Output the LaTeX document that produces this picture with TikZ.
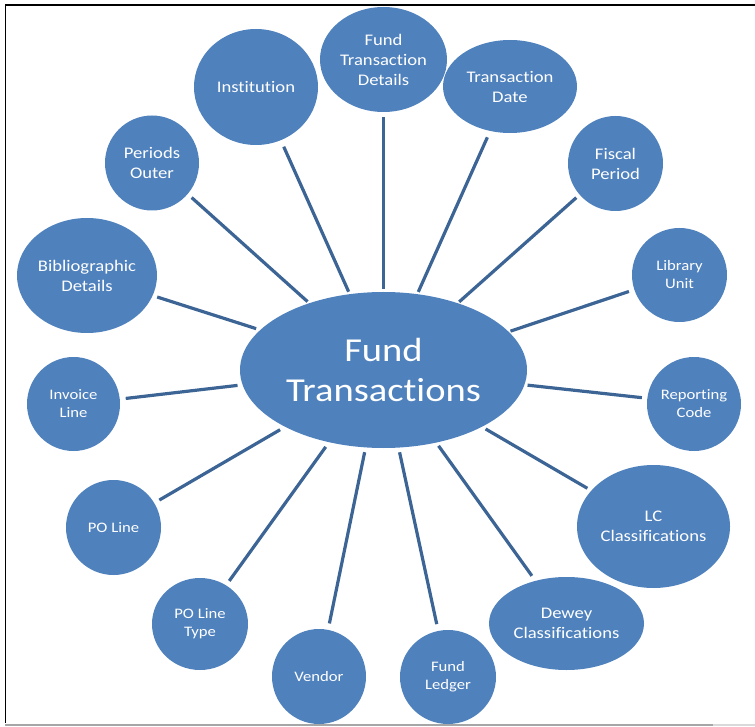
\documentclass[tikz,border=0pt]{standalone}
\usepackage{fontspec}
\setmainfont{Carlito}[FakeStretch=1.15, Ligatures={NoCommon,NoDiscretionary}, Contextuals=NoAlternate]
\usetikzlibrary{shapes.geometric}
\definecolor{nodeblue}{HTML}{4F81BD}
\definecolor{linkblue}{HTML}{3C6595}
\tikzset{
  bub/.style={ellipse, fill=nodeblue, text=white, inner sep=0pt, align=center,
    font=\fontsize{16.2}{20}\selectfont},
  smalltext/.style={font=\fontsize{14.5}{18}\selectfont},
  hubtext/.style={font=\fontsize{33.5}{40}\selectfont},
  link/.style={draw=linkblue, line width=3.2pt},
  sz/.style 2 args={minimum width=#1pt, minimum height=#2pt}
}
\begin{document}
\begin{tikzpicture}[x=1pt,y=-1pt]
\useasboundingbox (0,0) rectangle (755,727);
% frame
\draw[black, line width=1.5pt] (5,5) -- (755,5);
\draw[black, line width=1.5pt] (5.5,4.25) -- (5.5,723);
\draw[gray!70, line width=2pt] (5,724.5) -- (713,724.5);
\draw[gray!30, line width=2pt] (713,724.5) -- (755,724.5);

% hub
\node[bub, hubtext, sz={287}{156}] (ft) at (383.5,370) {Fund\\Transactions};

% satellites
\node[bub, sz={127}{105}] (ftd) at (383.5,59.5) {Fund\\Transaction\\Details};
\node[bub, sz={124}{116}] (inst) at (256,87) {Institution};
\node[bub, sz={134}{93}] (tdate) at (510,86.5) {Transaction\\Date};
\node[bub, sz={94}{95}] (pout) at (152,163) {Periods\\Outer};
\node[bub, sz={95}{95}] (fiscal) at (615.5,163.5) {Fiscal\\Period};
\node[bub, sz={140}{115}] (biblio) at (87,275.5) {Bibliographic\\Details};
\node[bub, smalltext, sz={95}{94}] (lib) at (679.5,275) {Library\\Unit};
\node[bub, smalltext, sz={93}{94}] (inv) at (73.5,404) {Invoice\\Line};
\node[bub, smalltext, sz={94}{94}] (rep) at (694,404) {Reporting\\Code};
\node[bub, smalltext, sz={95}{95}] (pol) at (113.5,527.5) {PO Line};
\node[bub, sz={153}{123}] (lc) at (653.5,526.5) {LC\\Classifications};
\node[bub, smalltext, sz={96}{92}] (polt) at (200,624) {PO Line\\Type};
\node[bub, smalltext, sz={94}{95}] (vend) at (319,676.5) {Vendor};
\node[bub, smalltext, sz={96}{94}] (ledg) at (448,677) {Fund\\Ledger};
\node[bub, sz={155}{93}] (dew) at (566.5,623.5) {Dewey\\Classifications};

% connectors
\draw[link, shorten <=5pt, shorten >=2.5pt] (ftd.-90) -- (ft.90);
\draw[link, shorten <=7pt, shorten >=2.5pt] (inst.-65.8) -- (ft.114.5);
\draw[link, shorten <=6.8pt, shorten >=2.3pt] (tdate.-114.5) -- (ft.66.1);
\draw[link, shorten <=5.2pt, shorten >=2.2pt] (pout.-41.9) -- (ft.138.4);
\draw[link, shorten <=4.3pt, shorten >=1.8pt] (fiscal.-139.7) -- (ft.42);
\draw[link, shorten <=4.6pt, shorten >=4.2pt] (biblio.-17.1) -- (ft.162.7);
\draw[link, shorten <=5.5pt, shorten >=1.8pt] (lib.-162.4) -- (ft.17.7);
\draw[link, shorten <=5.8pt, shorten >=4.9pt] (inv.6.5) -- (ft.186.3);
\draw[link, shorten <=5.3pt, shorten >=3pt] (rep.173.4) -- (ft.-6.4);
\draw[link, shorten <=5.7pt, shorten >=5.6pt] (pol.31.1) -- (ft.210.3);
\draw[link, shorten <=4.4pt, shorten >=4.1pt] (lc.150.6) -- (ft.-30.2);
\draw[link, shorten <=5.3pt, shorten >=5.6pt] (polt.56) -- (ft.233.7);
\draw[link, shorten <=6pt, shorten >=3.8pt] (dew.126) -- (ft.-54.9);
\draw[link, shorten <=6.4pt, shorten >=4.7pt] (vend.79.2) -- (ft.257.3);
\draw[link, shorten <=6.8pt, shorten >=4.6pt] (ledg.102.8) -- (ft.-79.3);
\end{tikzpicture}
\end{document}
